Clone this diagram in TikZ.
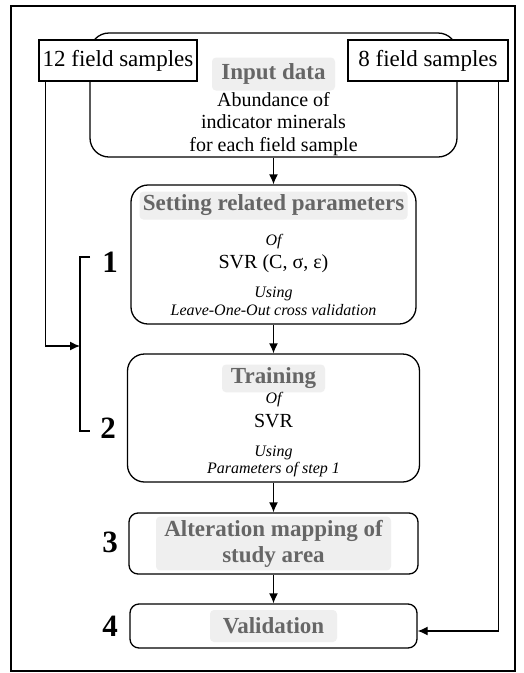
\documentclass[tikz,border=0pt]{standalone}
\usepackage{fontspec}
\setmainfont{Liberation Serif}
\usepackage{tikz}
\usetikzlibrary{arrows.meta,positioning}
\definecolor{headfg}{HTML}{666666}
\definecolor{headbg}{HTML}{EFEFEF}
\tikzset{%
	flowbox/.style  = {draw, rectangle, rounded corners=17pt, line width=1.3pt, fill=white},
	fieldbox/.style = {draw, rectangle, fill=white, line width=1.3pt, minimum width=158pt, minimum height=41pt, font=\fontsize{23}{27}\selectfont},
	head/.style     = {fill=headbg, text=headfg, rounded corners=4pt, inner xsep=2pt, align=center, font=\fontsize{23}{26}\selectfont\bfseries},
	body/.style     = {inner sep=0pt, align=center, font=\fontsize{20}{22.5}\selectfont},
	note/.style     = {inner sep=0pt, align=center, font=\fontsize{16}{18}\selectfont\itshape},
	num/.style      = {inner sep=0pt, font=\fontsize{31}{31}\selectfont\bfseries},
	arrow/.style    = {line width=1.3pt, -{Latex[length=10pt,width=9pt]}},
}
\begin{document}
\begin{tikzpicture}[x=1pt,y=-1pt,node distance=2cm,auto]
	\useasboundingbox (0,0) rectangle (524,673);
	\draw[line width=1.8pt] (11,6) rectangle (515,671);
	
	\node [flowbox,rounded corners=19pt,minimum width=367pt,minimum height=124pt] (in) at (273.5,95) {};
	\node [flowbox,minimum width=285pt,minimum height=139pt] (par) [below of=in,node distance=159.5pt] {};
	\node [flowbox,minimum width=292pt,minimum height=128pt] (trn) [below of=par,node distance=163.5pt] {};
	\node [flowbox,rounded corners=9pt,minimum width=289pt,minimum height=61pt] (map) [below of=trn,node distance=125.5pt] {};
	\node [flowbox,rounded corners=9pt,minimum width=287pt,minimum height=44pt] (val) [below of=map,node distance=82.5pt] {};
	\node [fieldbox] (s12) at (118,60.5) {12 field samples};
	\node [fieldbox,minimum width=160pt] (s8) at (428,60.5) {8 field samples};
	
	% input data
	\node [head,minimum width=123pt,minimum height=33pt] (intitle) [below=25pt of in.north] {Input data};
	\node [body] (intext) [below=1pt of intitle] {Abundance of\\indicator minerals\\for each field sample};
	% step 1
	\node [head,minimum width=268pt,minimum height=28pt] (partitle) [below=7pt of par.north] {Setting related parameters};
	\node [note] (parof) [below=14pt of partitle] {Of};
	\node [body] (parsvr) [below=6pt of parof] {SVR (C, σ, ε)};
	\node [note] (parusing) [below=13pt of parsvr] {Using\\Leave-One-Out cross validation};
	% step 2
	\node [head,minimum width=103pt,minimum height=25pt] (trntitle) [below=11pt of trn.north] {Training};
	\node [note] (trnof) [below=0pt of trntitle] {Of};
	\node [body] (trnsvr) [below=7pt of trnof] {SVR};
	\node [note,font=\fontsize{16}{17.5}\selectfont\itshape] (trnusing) [below=17pt of trnsvr] {Using\\Parameters of step 1};
	% steps 3 and 4
	\node [head,minimum width=235pt,minimum height=51pt] (maptitle) at (map) {Alteration mapping of\\study area};
	\node [head,minimum width=127pt,minimum height=32pt] (valtitle) at (val) {Validation};
	
	\node [num] (n1) at (110,262) {1};
	\node [num] (n2) at (108,428) {2};
	\node [num] (n3) at (110,542.5) {3};
	\node [num] (n4) at (110,626.5) {4};
	
	\coordinate (bt) at (90,257);
	\coordinate (bb) at (90,431);
	\coordinate (bm) at (80,346);
	
	\draw[arrow] (in) -- (par);
	\draw[arrow] (par) -- (trn);
	\draw[arrow] (trn) -- (map);
	\draw[arrow] (map) -- (val);
	\draw[line width=1.3pt] (bt) -- ++(-10,0) |- (bb);
	\draw[arrow] ([xshift=7pt]s12.south west) |- (bm);
	\draw[arrow] ([xshift=-10pt]s8.south east) |- ([yshift=-5pt]val.east);
\end{tikzpicture}
\end{document}
